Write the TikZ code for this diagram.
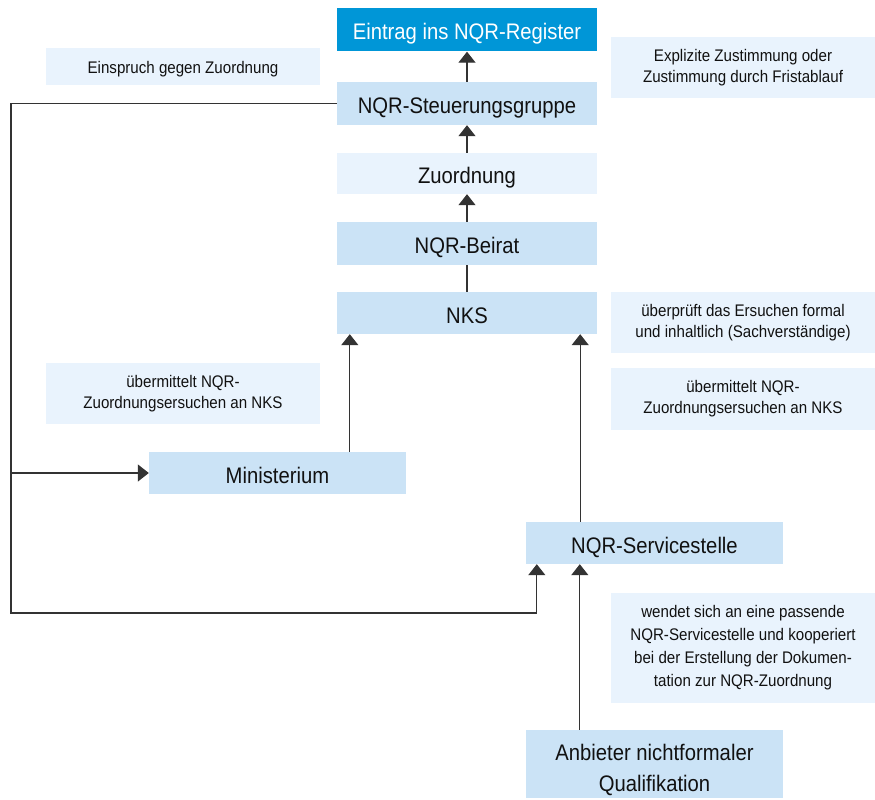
\documentclass[tikz,border=0pt]{standalone}
\usepackage{fontspec}
\setmainfont{Liberation Sans}[FakeStretch=0.9]
\usetikzlibrary{arrows.meta}
\definecolor{dark}{HTML}{0096D7}
\definecolor{mid}{HTML}{CBE3F6}
\definecolor{pale}{HTML}{E9F3FD}
\definecolor{txt}{HTML}{111111}
\definecolor{ln}{HTML}{333333}
\tikzset{
  box/.style={rectangle, inner sep=0pt, minimum width=260pt, minimum height=43pt, fill=mid, text=txt, font=\fontsize{22.5}{25}\selectfont, align=center},
  one/.style={text height=20pt, text depth=0pt},
  topbox/.style={box, one, fill=dark, text=white},
  palebox/.style={box, one, fill=pale},
  note/.style={rectangle, inner sep=0pt, minimum width=264pt, fill=pale, text=txt, font=\fontsize{16.8}{21}\selectfont, align=center},
  conn/.style={draw=ln, line width=1.3pt},
  arr/.style={conn, -{Triangle[width=17pt,length=11pt]}}
}
\begin{document}
\begin{tikzpicture}[x=1pt,y=-1pt]
\useasboundingbox (0,0) rectangle (875,800);
\node[topbox] (ein) at (467,30) {Eintrag ins NQR-Register};
\node[note, text height=14pt, text depth=0pt, minimum width=274pt, minimum height=37pt] (einsp) at (183,66.5) {Einspruch gegen Zuordnung};
\node[note, minimum height=61pt] (expl) at (743,67.5) {Explizite Zustimmung oder\\Zustimmung durch Fristablauf};
\node[box, one] (st) at (467,103.5) {NQR-Steuerungsgruppe};
\node[palebox, minimum height=41pt] (zu) at (467,173.5) {Zuordnung};
\node[box, one] (bei) at (467,243.5) {NQR-Beirat};
\node[box, one, minimum height=42pt] (nks) at (467,313) {NKS};
\node[note, minimum height=61pt] (ueb) at (743,322.5) {überprüft das Ersuchen formal\\und inhaltlich (Sachverständige)};
\node[note, minimum height=62pt] (uer) at (743,399) {übermittelt NQR-\\Zuordnungsersuchen an NKS};
\node[note, minimum width=274pt, minimum height=61pt] (uel) at (183,393.5) {übermittelt NQR-\\Zuordnungsersuchen an NKS};
\node[box, one, minimum width=257pt, minimum height=42pt] (mi) at (277.5,473) {Ministerium};
\node[box, one, minimum width=257pt, minimum height=42pt] (sv) at (654.5,543) {NQR-Servicestelle};
\node[note, minimum height=110pt, font=\fontsize{16.8}{23}\selectfont] (wen) at (743,648) {wendet sich an eine passende\\NQR-Servicestelle und kooperiert\\bei der Erstellung der Dokumen-\\tation zur NQR-Zuordnung};
\node[box, minimum width=257pt, minimum height=68pt,
  label={[font=\fontsize{22.5}{31}\selectfont, text=txt, align=center, inner sep=0pt, yshift=-6pt]center:Anbieter nichtformaler\\Qualifikation}] (anb) at (654.5,764) {};
% vertical chain
\draw[arr] (st.north) -- (ein.south);
\draw[arr] (zu.north) -- (st.south);
\draw[arr] (bei.north) -- (zu.south);
\draw[conn] (nks.north) -- (bei.south);
% to NKS
\coordinate (nksl) at ([xshift=13pt]nks.south west);
\coordinate (nksr) at ([xshift=-17pt]nks.south east);
\draw[arr] (nksl |- mi.north) -- (nksl);
\draw[arr] (nksr |- sv.north) -- (nksr);
% Anbieter to Servicestelle
\coordinate (svr) at ([xshift=54pt]sv.south west);
\draw[arr] (svr |- anb.north) -- (svr);
% loop
\coordinate (loopbot) at (11,613);
\coordinate (svl) at ([xshift=11pt]sv.south west);
\draw[arr] (st.west) -| (loopbot) -| (svl);
\draw[arr] (mi.west -| loopbot) -- (mi.west);
\end{tikzpicture}
\end{document}
